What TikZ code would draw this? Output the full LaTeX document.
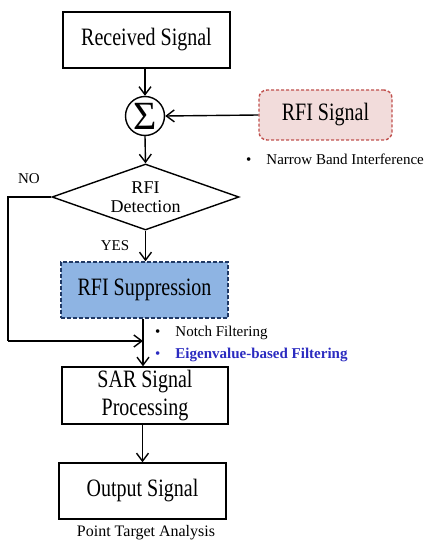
\documentclass[tikz,border=0pt]{standalone}
\usepackage{fontspec}
\setmainfont{Liberation Serif}
\newfontfamily\tallfont[FakeStretch=0.8]{Liberation Serif}
\usetikzlibrary{arrows.meta,shapes.geometric}
\definecolor{rfired}{HTML}{C0504D}
\definecolor{rfipink}{HTML}{F2DCDB}
\definecolor{supblue}{HTML}{8EB4E3}
\definecolor{supborder}{HTML}{1F3864}
\definecolor{textblue}{HTML}{2B2BC0}
\tikzset{
  box/.style={draw, line width=1.4pt, inner sep=0pt, font=\tallfont\fontsize{25}{26}\selectfont, align=center},
  note/.style={font=\fontsize{15}{17}\selectfont, inner sep=0pt, anchor=west},
  arr/.style={line width=1.4pt, -{Straight Barb[length=8pt,width=12pt,line width=1.4pt]}},
  ln/.style={line width=1.4pt}
}
\begin{document}
\begin{tikzpicture}[x=1pt,y=-1pt]
\useasboundingbox (0,0) rectangle (426,545);
\node[box, minimum width=167pt, minimum height=56pt] (recv) at (146.5,40) {Received Signal};
\node[draw, circle, line width=1.4pt, minimum size=39pt, inner sep=0pt, font=\fontsize{40}{40}\selectfont] (sum) at (145,116) {\raisebox{-1pt}{Σ}};
\node[box, rounded corners=8pt, dashed, dash pattern=on 3pt off 2pt, draw=rfired, fill=rfipink, minimum width=133pt, minimum height=50pt] (rfi) at (325.5,115) {RFI Signal};
\node[note] (nbi) at (246,159) {\textbullet\hspace{15pt}Narrow Band Interference};
\node[draw, diamond, aspect=2.83, line width=1.4pt, inner sep=0pt, minimum width=187pt, minimum height=66pt, align=center, font=\fontsize{18}{20}\selectfont] (det) at (145.5,197) {RFI\\[-1pt]Detection};
\node[note, anchor=center] (no) at (29,179) {NO};
\node[note, anchor=center] (yes) at (115,246) {YES};
\node[box, dashed, dash pattern=on 4pt off 2pt, draw=supborder, fill=supblue, minimum width=167pt, minimum height=56pt] (sup) at (144.5,290) {RFI Suppression};
\node[note] (notch) at (155,333) {\textbullet\hspace{15pt}Notch Filtering};
\node[note, text=textblue] (eig) at (155,355) {\textbullet\hspace{15pt}\textbf{Eigenvalue-based Filtering}};
\node[box, minimum width=166pt, minimum height=57pt, font=\tallfont\fontsize{25}{28}\selectfont] (sar) at (145,395.5) {SAR Signal\\Processing};
\node[box, minimum width=167pt, minimum height=56pt] (out) at (142.5,491) {Output Signal};
\node[note, anchor=center, font=\fontsize{16}{18}\selectfont] (pta) at (146,533) {Point Target Analysis};
\coordinate (j) at (143,341);
\draw[arr] (recv.south -| sum.north) -- (sum.north);
\draw[arr] (rfi.west) -- (sum.east);
\draw[arr] (sum.south) -- (det.north);
\draw[arr] (det.south) -- (det.south |- sup.north);
\draw[ln] (det.west) -- (8,197) -- (8,341);
\draw[arr] (8,341) -- (j);
\draw[arr] (j |- sup.south) -- (j |- sar.north);
\draw[arr] (sar.south -| out.north) -- (out.north);
\end{tikzpicture}
\end{document}
